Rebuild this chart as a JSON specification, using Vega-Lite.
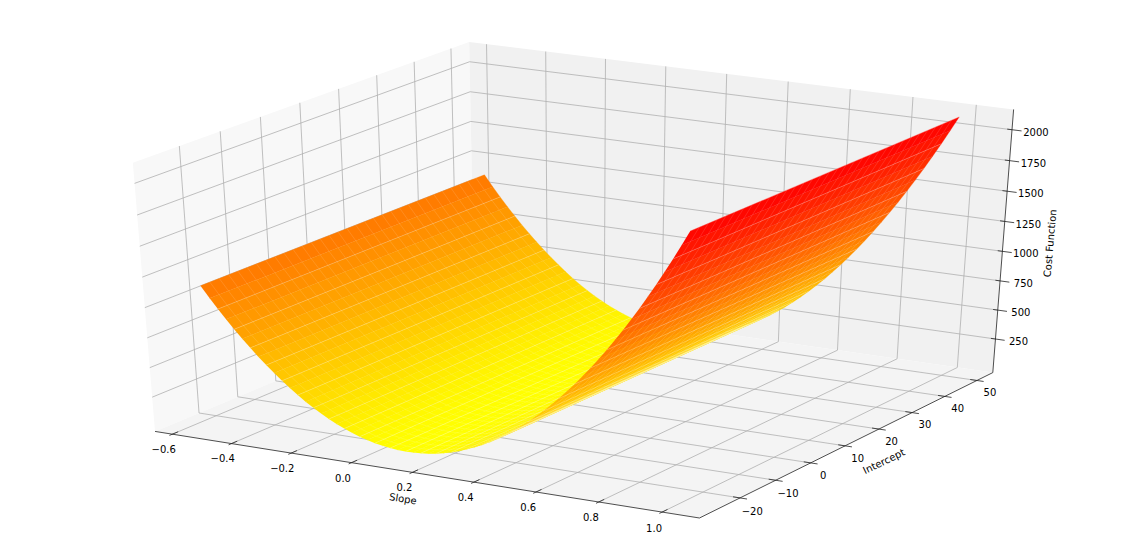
{"$schema":"https://vega.github.io/schema/vega-lite/v6.json","width":1130,"height":558,"padding":0,"autosize":"none","background":"white","config":{"view":{"stroke":null}},
"data":{"values":[
{"k":"floor","id":"p1","s":[-0.659,1.117,1.117,-0.659],"b":[-31.16,-31.16,55.01,55.01],"z":[-44,-44,-44,-44]},
{"k":"left","id":"p2","s":[-0.659,-0.659,-0.659,-0.659],"b":[-31.16,55.01,55.01,-31.16],"z":[-44,-44,2162.5,2162.5]},
{"k":"back","id":"p3","s":[-0.659,1.117,1.117,-0.659],"b":[55.01,55.01,55.01,55.01],"z":[-44,-44,2162.5,2162.5]},
{"k":"grid","id":"gx1","s":[-0.6,-0.6,-0.6],"b":[-31.16,55.01,55.01],"z":[-44,-44,2162.5]},
{"k":"grid","id":"gx2","s":[-0.4,-0.4,-0.4],"b":[-31.16,55.01,55.01],"z":[-44,-44,2162.5]},
{"k":"grid","id":"gx3","s":[-0.2,-0.2,-0.2],"b":[-31.16,55.01,55.01],"z":[-44,-44,2162.5]},
{"k":"grid","id":"gx4","s":[0,0,0],"b":[-31.16,55.01,55.01],"z":[-44,-44,2162.5]},
{"k":"grid","id":"gx5","s":[0.2,0.2,0.2],"b":[-31.16,55.01,55.01],"z":[-44,-44,2162.5]},
{"k":"grid","id":"gx6","s":[0.4,0.4,0.4],"b":[-31.16,55.01,55.01],"z":[-44,-44,2162.5]},
{"k":"grid","id":"gx7","s":[0.6,0.6,0.6],"b":[-31.16,55.01,55.01],"z":[-44,-44,2162.5]},
{"k":"grid","id":"gx8","s":[0.8,0.8,0.8],"b":[-31.16,55.01,55.01],"z":[-44,-44,2162.5]},
{"k":"grid","id":"gx9","s":[1,1,1],"b":[-31.16,55.01,55.01],"z":[-44,-44,2162.5]},
{"k":"grid","id":"gy1","s":[1.117,-0.659,-0.659],"b":[-20,-20,-20],"z":[-44,-44,2162.5]},
{"k":"grid","id":"gy2","s":[1.117,-0.659,-0.659],"b":[-10,-10,-10],"z":[-44,-44,2162.5]},
{"k":"grid","id":"gy3","s":[1.117,-0.659,-0.659],"b":[0,0,0],"z":[-44,-44,2162.5]},
{"k":"grid","id":"gy4","s":[1.117,-0.659,-0.659],"b":[10,10,10],"z":[-44,-44,2162.5]},
{"k":"grid","id":"gy5","s":[1.117,-0.659,-0.659],"b":[20,20,20],"z":[-44,-44,2162.5]},
{"k":"grid","id":"gy6","s":[1.117,-0.659,-0.659],"b":[30,30,30],"z":[-44,-44,2162.5]},
{"k":"grid","id":"gy7","s":[1.117,-0.659,-0.659],"b":[40,40,40],"z":[-44,-44,2162.5]},
{"k":"grid","id":"gy8","s":[1.117,-0.659,-0.659],"b":[50,50,50],"z":[-44,-44,2162.5]},
{"k":"grid","id":"gz1","s":[-0.659,-0.659,1.117],"b":[-31.16,55.01,55.01],"z":[250,250,250]},
{"k":"grid","id":"gz2","s":[-0.659,-0.659,1.117],"b":[-31.16,55.01,55.01],"z":[500,500,500]},
{"k":"grid","id":"gz3","s":[-0.659,-0.659,1.117],"b":[-31.16,55.01,55.01],"z":[750,750,750]},
{"k":"grid","id":"gz4","s":[-0.659,-0.659,1.117],"b":[-31.16,55.01,55.01],"z":[1000,1000,1000]},
{"k":"grid","id":"gz5","s":[-0.659,-0.659,1.117],"b":[-31.16,55.01,55.01],"z":[1250,1250,1250]},
{"k":"grid","id":"gz6","s":[-0.659,-0.659,1.117],"b":[-31.16,55.01,55.01],"z":[1500,1500,1500]},
{"k":"grid","id":"gz7","s":[-0.659,-0.659,1.117],"b":[-31.16,55.01,55.01],"z":[1750,1750,1750]},
{"k":"grid","id":"gz8","s":[-0.659,-0.659,1.117],"b":[-31.16,55.01,55.01],"z":[2000,2000,2000]},
{"k":"axis","id":"ax","s":[-0.659,1.117],"b":[-31.16,-31.16],"z":[-44,-44]},
{"k":"axis","id":"ay","s":[1.117,1.117],"b":[-31.16,55.01],"z":[-44,-44]},
{"k":"axis","id":"az","s":[1.117,1.117],"b":[55.01,55.01],"z":[-44,2162.5]},
{"k":"axis","id":"tx1","s":[-0.6,-0.6],"b":[-31.9,-29.7],"z":[-44,-44]},
{"k":"axis","id":"tx2","s":[-0.4,-0.4],"b":[-31.9,-29.7],"z":[-44,-44]},
{"k":"axis","id":"tx3","s":[-0.2,-0.2],"b":[-31.9,-29.7],"z":[-44,-44]},
{"k":"axis","id":"tx4","s":[0,0],"b":[-31.9,-29.7],"z":[-44,-44]},
{"k":"axis","id":"tx5","s":[0.2,0.2],"b":[-31.9,-29.7],"z":[-44,-44]},
{"k":"axis","id":"tx6","s":[0.4,0.4],"b":[-31.9,-29.7],"z":[-44,-44]},
{"k":"axis","id":"tx7","s":[0.6,0.6],"b":[-31.9,-29.7],"z":[-44,-44]},
{"k":"axis","id":"tx8","s":[0.8,0.8],"b":[-31.9,-29.7],"z":[-44,-44]},
{"k":"axis","id":"tx9","s":[1,1],"b":[-31.9,-29.7],"z":[-44,-44]},
{"k":"axis","id":"ty1","s":[1.139,1.095],"b":[-20,-20],"z":[-44,-44]},
{"k":"axis","id":"ty2","s":[1.139,1.095],"b":[-10,-10],"z":[-44,-44]},
{"k":"axis","id":"ty3","s":[1.139,1.095],"b":[0,0],"z":[-44,-44]},
{"k":"axis","id":"ty4","s":[1.139,1.095],"b":[10,10],"z":[-44,-44]},
{"k":"axis","id":"ty5","s":[1.139,1.095],"b":[20,20],"z":[-44,-44]},
{"k":"axis","id":"ty6","s":[1.139,1.095],"b":[30,30],"z":[-44,-44]},
{"k":"axis","id":"ty7","s":[1.139,1.095],"b":[40,40],"z":[-44,-44]},
{"k":"axis","id":"ty8","s":[1.139,1.095],"b":[50,50],"z":[-44,-44]},
{"k":"axis","id":"tz1","s":[1.147,1.102],"b":[55.01,55.01],"z":[250,250]},
{"k":"axis","id":"tz2","s":[1.147,1.102],"b":[55.01,55.01],"z":[500,500]},
{"k":"axis","id":"tz3","s":[1.147,1.102],"b":[55.01,55.01],"z":[750,750]},
{"k":"axis","id":"tz4","s":[1.147,1.102],"b":[55.01,55.01],"z":[1000,1000]},
{"k":"axis","id":"tz5","s":[1.147,1.102],"b":[55.01,55.01],"z":[1250,1250]},
{"k":"axis","id":"tz6","s":[1.147,1.102],"b":[55.01,55.01],"z":[1500,1500]},
{"k":"axis","id":"tz7","s":[1.147,1.102],"b":[55.01,55.01],"z":[1750,1750]},
{"k":"axis","id":"tz8","s":[1.147,1.102],"b":[55.01,55.01],"z":[2000,2000]},
{"k":"surf","id":"c00","s":[-0.553,-0.553,-0.525,-0.525],"b":[-25,50,50,-25],"z":[1138,1138,1045,1045]},
{"k":"surf","id":"c01","s":[-0.525,-0.525,-0.5,-0.5],"b":[-25,50,50,-25],"z":[1045,1045,966,966]},
{"k":"surf","id":"c02","s":[-0.5,-0.5,-0.475,-0.475],"b":[-25,50,50,-25],"z":[966,966,890,890]},
{"k":"surf","id":"c03","s":[-0.475,-0.475,-0.45,-0.45],"b":[-25,50,50,-25],"z":[890,890,817,817]},
{"k":"surf","id":"c04","s":[-0.45,-0.45,-0.425,-0.425],"b":[-25,50,50,-25],"z":[817,817,747,747]},
{"k":"surf","id":"c05","s":[-0.425,-0.425,-0.4,-0.4],"b":[-25,50,50,-25],"z":[747,747,681,681]},
{"k":"surf","id":"c06","s":[-0.4,-0.4,-0.375,-0.375],"b":[-25,50,50,-25],"z":[681,681,617,617]},
{"k":"surf","id":"c07","s":[-0.375,-0.375,-0.35,-0.35],"b":[-25,50,50,-25],"z":[617,617,556,556]},
{"k":"surf","id":"c08","s":[-0.35,-0.35,-0.325,-0.325],"b":[-25,50,50,-25],"z":[556,556,499,499]},
{"k":"surf","id":"c09","s":[-0.325,-0.325,-0.3,-0.3],"b":[-25,50,50,-25],"z":[499,499,444,444]},
{"k":"surf","id":"c10","s":[-0.3,-0.3,-0.275,-0.275],"b":[-25,50,50,-25],"z":[444,444,392,392]},
{"k":"surf","id":"c11","s":[-0.275,-0.275,-0.25,-0.25],"b":[-25,50,50,-25],"z":[392,392,342,342]},
{"k":"surf","id":"c12","s":[-0.25,-0.25,-0.225,-0.225],"b":[-25,50,50,-25],"z":[342,342,296,296]},
{"k":"surf","id":"c13","s":[-0.225,-0.225,-0.2,-0.2],"b":[-25,50,50,-25],"z":[296,296,254,254]},
{"k":"surf","id":"c14","s":[-0.2,-0.2,-0.175,-0.175],"b":[-25,50,50,-25],"z":[254,254,215,215]},
{"k":"surf","id":"c15","s":[-0.175,-0.175,-0.15,-0.15],"b":[-25,50,50,-25],"z":[215,215,179,179]},
{"k":"surf","id":"c16","s":[-0.15,-0.15,-0.125,-0.125],"b":[-25,50,50,-25],"z":[179,179,146,146]},
{"k":"surf","id":"c17","s":[-0.125,-0.125,-0.1,-0.1],"b":[-25,50,50,-25],"z":[146,146,117,117]},
{"k":"surf","id":"c18","s":[-0.1,-0.1,-0.075,-0.075],"b":[-25,50,50,-25],"z":[117,117,91,91]},
{"k":"surf","id":"c19","s":[-0.075,-0.075,-0.05,-0.05],"b":[-25,50,50,-25],"z":[91,91,68,68]},
{"k":"surf","id":"c20","s":[-0.05,-0.05,-0.025,-0.025],"b":[-25,50,50,-25],"z":[68,68,49,49]},
{"k":"surf","id":"c21","s":[-0.025,-0.025,0,0],"b":[-25,50,50,-25],"z":[49,49,33,33]},
{"k":"surf","id":"c22","s":[0,0,0.025,0.025],"b":[-25,50,50,-25],"z":[33,33,20,20]},
{"k":"surf","id":"c23","s":[0.025,0.025,0.05,0.05],"b":[-25,50,50,-25],"z":[20,20,11,11]},
{"k":"surf","id":"c24","s":[0.05,0.05,0.075,0.075],"b":[-25,50,50,-25],"z":[11,11,5,5]},
{"k":"surf","id":"c25","s":[0.075,0.075,0.1,0.1],"b":[-25,50,50,-25],"z":[5,5,2,2]},
{"k":"surf","id":"c26","s":[0.1,0.1,0.125,0.125],"b":[-25,50,50,-25],"z":[2,2,3,3]},
{"k":"surf","id":"c27","s":[0.125,0.125,0.15,0.15],"b":[-25,50,50,-25],"z":[3,3,7,7]},
{"k":"surf","id":"c28","s":[0.15,0.15,0.175,0.175],"b":[-25,50,50,-25],"z":[7,7,14,14]},
{"k":"surf","id":"c29","s":[0.175,0.175,0.2,0.2],"b":[-25,50,50,-25],"z":[14,14,25,25]},
{"k":"surf","id":"c30","s":[0.2,0.2,0.225,0.225],"b":[-25,50,50,-25],"z":[25,25,39,39]},
{"k":"surf","id":"c31","s":[0.225,0.225,0.25,0.25],"b":[-25,50,50,-25],"z":[39,39,56,56]},
{"k":"surf","id":"c32","s":[0.25,0.25,0.275,0.275],"b":[-25,50,50,-25],"z":[56,56,77,77]},
{"k":"surf","id":"c33","s":[0.275,0.275,0.3,0.3],"b":[-25,50,50,-25],"z":[77,77,101,101]},
{"k":"surf","id":"c34","s":[0.3,0.3,0.325,0.325],"b":[-25,50,50,-25],"z":[101,101,128,128]},
{"k":"surf","id":"c35","s":[0.325,0.325,0.35,0.35],"b":[-25,50,50,-25],"z":[128,128,158,158]},
{"k":"surf","id":"c36","s":[0.35,0.35,0.375,0.375],"b":[-25,50,50,-25],"z":[158,158,192,192]},
{"k":"surf","id":"c37","s":[0.375,0.375,0.4,0.4],"b":[-25,50,50,-25],"z":[192,192,230,230]},
{"k":"surf","id":"c38","s":[0.4,0.4,0.425,0.425],"b":[-25,50,50,-25],"z":[230,230,270,270]},
{"k":"surf","id":"c39","s":[0.425,0.425,0.45,0.45],"b":[-25,50,50,-25],"z":[270,270,314,314]},
{"k":"surf","id":"c40","s":[0.45,0.45,0.475,0.475],"b":[-25,50,50,-25],"z":[314,314,361,361]},
{"k":"surf","id":"c41","s":[0.475,0.475,0.5,0.5],"b":[-25,50,50,-25],"z":[361,361,412,412]},
{"k":"surf","id":"c42","s":[0.5,0.5,0.525,0.525],"b":[-25,50,50,-25],"z":[412,412,466,466]},
{"k":"surf","id":"c43","s":[0.525,0.525,0.55,0.55],"b":[-25,50,50,-25],"z":[466,466,523,523]},
{"k":"surf","id":"c44","s":[0.55,0.55,0.575,0.575],"b":[-25,50,50,-25],"z":[523,523,584,584]},
{"k":"surf","id":"c45","s":[0.575,0.575,0.6,0.6],"b":[-25,50,50,-25],"z":[584,584,647,647]},
{"k":"surf","id":"c46","s":[0.6,0.6,0.625,0.625],"b":[-25,50,50,-25],"z":[647,647,715,715]},
{"k":"surf","id":"c47","s":[0.625,0.625,0.65,0.65],"b":[-25,50,50,-25],"z":[715,715,785,785]},
{"k":"surf","id":"c48","s":[0.65,0.65,0.675,0.675],"b":[-25,50,50,-25],"z":[785,785,859,859]},
{"k":"surf","id":"c49","s":[0.675,0.675,0.7,0.7],"b":[-25,50,50,-25],"z":[859,859,936,936]},
{"k":"surf","id":"c50","s":[0.7,0.7,0.725,0.725],"b":[-25,50,50,-25],"z":[936,936,1017,1017]},
{"k":"surf","id":"c51","s":[0.725,0.725,0.75,0.75],"b":[-25,50,50,-25],"z":[1017,1017,1101,1101]},
{"k":"surf","id":"c52","s":[0.75,0.75,0.775,0.775],"b":[-25,50,50,-25],"z":[1101,1101,1188,1188]},
{"k":"surf","id":"c53","s":[0.775,0.775,0.8,0.8],"b":[-25,50,50,-25],"z":[1188,1188,1278,1278]},
{"k":"surf","id":"c54","s":[0.8,0.8,0.825,0.825],"b":[-25,50,50,-25],"z":[1278,1278,1372,1372]},
{"k":"surf","id":"c55","s":[0.825,0.825,0.85,0.85],"b":[-25,50,50,-25],"z":[1372,1372,1469,1469]},
{"k":"surf","id":"c56","s":[0.85,0.85,0.875,0.875],"b":[-25,50,50,-25],"z":[1469,1469,1570,1570]},
{"k":"surf","id":"c57","s":[0.875,0.875,0.9,0.9],"b":[-25,50,50,-25],"z":[1570,1570,1673,1673]},
{"k":"surf","id":"c58","s":[0.9,0.9,0.925,0.925],"b":[-25,50,50,-25],"z":[1673,1673,1781,1781]},
{"k":"surf","id":"c59","s":[0.925,0.925,0.95,0.95],"b":[-25,50,50,-25],"z":[1781,1781,1891,1891]},
{"k":"surf","id":"c60","s":[0.95,0.95,0.975,0.975],"b":[-25,50,50,-25],"z":[1891,1891,2005,2005]},
{"k":"surf","id":"c61","s":[0.975,0.975,1,1],"b":[-25,50,50,-25],"z":[2005,2005,2122,2122]},
{"k":"lab","id":"lx1","t":"−0.6","s":[-0.53],"b":[-38.5],"z":[-44]},
{"k":"lab","id":"lx2","t":"−0.4","s":[-0.332],"b":[-38.5],"z":[-44]},
{"k":"lab","id":"lx3","t":"−0.2","s":[-0.134],"b":[-38.5],"z":[-44]},
{"k":"lab","id":"lx4","t":"0.0","s":[0.066],"b":[-38.5],"z":[-44]},
{"k":"lab","id":"lx5","t":"0.2","s":[0.266],"b":[-38.5],"z":[-44]},
{"k":"lab","id":"lx6","t":"0.4","s":[0.464],"b":[-38.5],"z":[-44]},
{"k":"lab","id":"lx7","t":"0.6","s":[0.664],"b":[-38.5],"z":[-44]},
{"k":"lab","id":"lx8","t":"0.8","s":[0.862],"b":[-38.5],"z":[-44]},
{"k":"lab","id":"lx9","t":"1.0","s":[1.06],"b":[-38.5],"z":[-44]},
{"k":"lab","id":"ly1","t":"−20","s":[1.2115],"b":[-25],"z":[-44]},
{"k":"lab","id":"ly2","t":"−10","s":[1.2115],"b":[-15],"z":[-44]},
{"k":"lab","id":"ly3","t":"0","s":[1.2115],"b":[-5],"z":[-44]},
{"k":"lab","id":"ly4","t":"10","s":[1.2115],"b":[5],"z":[-44]},
{"k":"lab","id":"ly5","t":"20","s":[1.2115],"b":[15],"z":[-44]},
{"k":"lab","id":"ly6","t":"30","s":[1.2115],"b":[25],"z":[-44]},
{"k":"lab","id":"ly7","t":"40","s":[1.2115],"b":[35],"z":[-44]},
{"k":"lab","id":"ly8","t":"50","s":[1.2115],"b":[45],"z":[-44]},
{"k":"lab","id":"lz1","t":"250","s":[1.192],"b":[55.01],"z":[250]},
{"k":"lab","id":"lz2","t":"500","s":[1.192],"b":[55.01],"z":[500]},
{"k":"lab","id":"lz3","t":"750","s":[1.192],"b":[55.01],"z":[750]},
{"k":"lab","id":"lz4","t":"1000","s":[1.192],"b":[55.01],"z":[1000]},
{"k":"lab","id":"lz5","t":"1250","s":[1.192],"b":[55.01],"z":[1250]},
{"k":"lab","id":"lz6","t":"1500","s":[1.192],"b":[55.01],"z":[1500]},
{"k":"lab","id":"lz7","t":"1750","s":[1.192],"b":[55.01],"z":[1750]},
{"k":"lab","id":"lz8","t":"2000","s":[1.192],"b":[55.01],"z":[2000]},
{"k":"tSlope","id":"t1","t":"Slope","s":[0.319],"b":[-43.1],"z":[-44]},
{"k":"tInt","id":"t2","t":"Intercept","s":[1.29],"b":[5.5],"z":[-44]},
{"k":"tCost","id":"t3","t":"Cost Function","s":[1.267],"b":[55.01],"z":[1120]}
]},
"transform":[
{"flatten":["s","b","z"]},
{"calculate":"(datum.s+0.659)/1.776-0.5","as":"qx"},
{"calculate":"(datum.b+31.16)/86.17-0.5","as":"qy"},
{"calculate":"(datum.z+44)/2206.5-0.5","as":"qz"},
{"calculate":"10-(0.433013*datum.qx-0.75*datum.qy+0.5*datum.qz)","as":"w"},
{"calculate":"(0.866025*datum.qx+0.5*datum.qy)/datum.w","as":"px"},
{"calculate":"(-0.25*datum.qx+0.433013*datum.qy+0.866025*datum.qz)/datum.w","as":"py"}
],
"encoding":{
"x":{"field":"px","type":"quantitative","axis":null,"scale":{"domain":[-0.09235,0.08745],"nice":false,"zero":false}},
"y":{"field":"py","type":"quantitative","axis":null,"scale":{"domain":[-0.09322,0.0886],"nice":false,"zero":false}}
},
"layer":[
{"transform":[{"filter":"datum.k=='left'"}],"mark":{"type":"line","filled":true,"fill":"#f8f8f8","stroke":null},"encoding":{"detail":{"field":"id"},"order":{"value":null}}},
{"transform":[{"filter":"datum.k=='back'"}],"mark":{"type":"line","filled":true,"fill":"#f1f1f1","stroke":null},"encoding":{"detail":{"field":"id"},"order":{"value":null}}},
{"transform":[{"filter":"datum.k=='floor'"}],"mark":{"type":"line","filled":true,"fill":"#f4f4f4","stroke":null},"encoding":{"detail":{"field":"id"},"order":{"value":null}}},
{"transform":[{"filter":"datum.k=='grid'"}],"mark":{"type":"line","stroke":"#b0b0b0","strokeWidth":0.8},"encoding":{"detail":{"field":"id"},"order":{"value":null}}},
{"transform":[{"filter":"datum.k=='axis'"}],"mark":{"type":"line","stroke":"#222222","strokeWidth":0.8},"encoding":{"detail":{"field":"id"},"order":{"value":null}}},
{"transform":[{"filter":"datum.k=='surf'&&datum.id<'c34'"},{"joinaggregate":[{"op":"mean","field":"z","as":"v"}],"groupby":["id"]}],"mark":{"type":"line","strokeWidth":0.3},"encoding":{"detail":{"field":"id"},"order":{"value":null},
"fill":{"field":"v","type":"quantitative","legend":null,"scale":{"domain":[2,2122],"range":["#ffff00","#ff0000"],"interpolate":"rgb"}},
"stroke":{"field":"v","type":"quantitative","legend":null,"scale":{"domain":[2,2122],"range":["#ffff00","#ff0000"],"interpolate":"rgb"}}}},
{"transform":[{"filter":"datum.k=='surf'&&datum.id<'c34'&&abs(datum.s/0.05-round(datum.s/0.05))<0.001"}],"mark":{"type":"line","stroke":"#ffffff","strokeOpacity":0.2,"strokeWidth":0.6},"encoding":{"detail":{"field":"s"},"order":{"value":null}}},
{"transform":[{"filter":"datum.k=='surf'&&datum.id<'c34'&&datum.b==-25"},
{"calculate":"[-22.66,-20.31,-17.97,-15.63,-13.28,-10.94,-8.59,-6.25,-3.91,-1.56,0.78,3.13,5.47,7.81,10.16,12.5,14.84,17.19,19.53,21.88,24.22,26.56,28.91,31.25,33.59,35.94,38.28,40.63,42.97,45.31,47.66]","as":"bs"},{"flatten":["bs"]},
{"calculate":"(datum.bs+31.16)/86.17-0.5","as":"qy"},
{"calculate":"10-(0.433013*datum.qx-0.75*datum.qy+0.5*datum.qz)","as":"w"},
{"calculate":"(0.866025*datum.qx+0.5*datum.qy)/datum.w","as":"px"},
{"calculate":"(-0.25*datum.qx+0.433013*datum.qy+0.866025*datum.qz)/datum.w","as":"py"}],
"mark":{"type":"line","stroke":"#ffffff","strokeOpacity":0.2,"strokeWidth":0.6},"encoding":{"detail":{"field":"bs"},"order":{"value":null}}},
{"transform":[{"filter":"datum.k=='surf'&&datum.id>='c34'"},{"joinaggregate":[{"op":"mean","field":"z","as":"v"}],"groupby":["id"]}],"mark":{"type":"line","strokeWidth":0.3},"encoding":{"detail":{"field":"id"},"order":{"value":null},
"fill":{"field":"v","type":"quantitative","legend":null,"scale":{"domain":[2,2122],"range":["#ffff00","#ff0000"],"interpolate":"rgb"}},
"stroke":{"field":"v","type":"quantitative","legend":null,"scale":{"domain":[2,2122],"range":["#ffff00","#ff0000"],"interpolate":"rgb"}}}},
{"transform":[{"filter":"datum.k=='surf'&&datum.id>='c34'&&abs(datum.s/0.05-round(datum.s/0.05))<0.001"}],"mark":{"type":"line","stroke":"#ffffff","strokeOpacity":0.2,"strokeWidth":0.6},"encoding":{"detail":{"field":"s"},"order":{"value":null}}},
{"transform":[{"filter":"datum.k=='surf'&&datum.id>='c34'&&datum.b==-25"},
{"calculate":"[-22.66,-20.31,-17.97,-15.63,-13.28,-10.94,-8.59,-6.25,-3.91,-1.56,0.78,3.13,5.47,7.81,10.16,12.5,14.84,17.19,19.53,21.88,24.22,26.56,28.91,31.25,33.59,35.94,38.28,40.63,42.97,45.31,47.66]","as":"bs"},{"flatten":["bs"]},
{"calculate":"(datum.bs+31.16)/86.17-0.5","as":"qy"},
{"calculate":"10-(0.433013*datum.qx-0.75*datum.qy+0.5*datum.qz)","as":"w"},
{"calculate":"(0.866025*datum.qx+0.5*datum.qy)/datum.w","as":"px"},
{"calculate":"(-0.25*datum.qx+0.433013*datum.qy+0.866025*datum.qz)/datum.w","as":"py"}],
"mark":{"type":"line","stroke":"#ffffff","strokeOpacity":0.2,"strokeWidth":0.6},"encoding":{"detail":{"field":"bs"},"order":{"value":null}}},
{"transform":[{"filter":"datum.k=='lab'"}],"mark":{"type":"text","font":"DejaVu Sans","fontSize":10,"fill":"#000000","align":"center","baseline":"middle"},"encoding":{"text":{"field":"t"}}},
{"transform":[{"filter":"datum.k=='tSlope'"}],"mark":{"type":"text","font":"DejaVu Sans","fontSize":10,"fill":"#000000","align":"center","baseline":"middle","angle":9},"encoding":{"text":{"field":"t"}}},
{"transform":[{"filter":"datum.k=='tInt'"}],"mark":{"type":"text","font":"DejaVu Sans","fontSize":10,"fill":"#000000","align":"center","baseline":"middle","angle":334},"encoding":{"text":{"field":"t"}}},
{"transform":[{"filter":"datum.k=='tCost'"}],"mark":{"type":"text","font":"DejaVu Sans","fontSize":10,"fill":"#000000","align":"center","baseline":"middle","angle":275},"encoding":{"text":{"field":"t"}}}
]}
